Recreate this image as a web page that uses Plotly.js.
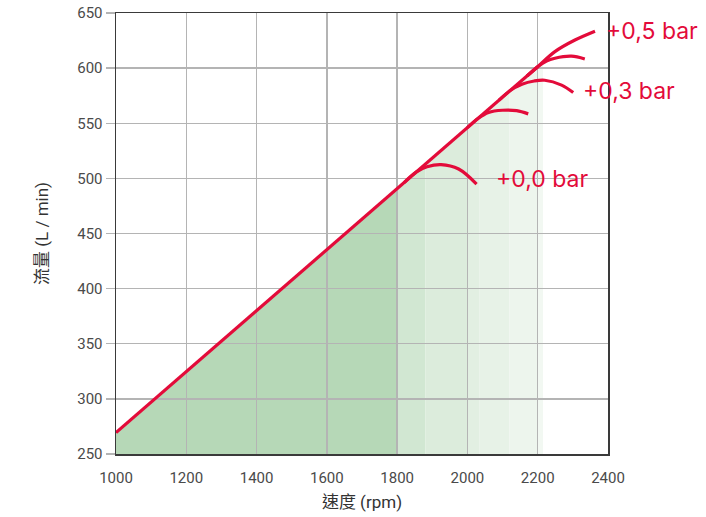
<!DOCTYPE html>
<html>
<head>
<meta charset="utf-8">
<script src="https://cdn.plot.ly/plotly-3.0.1.min.js"></script>
<style>html,body{margin:0;padding:0;background:#fff;}#chart{width:706px;height:517px;}</style>
</head>
<body>
<div id="chart"></div>
<script>
// x axis ticks (rpm) and y axis ticks (L/min)
const xTicks = [1000, 1200, 1400, 1600, 1800, 2000, 2200, 2400];
const yTicks = [250, 300, 350, 400, 450, 500, 550, 600, 650];

// main straight flow line
const mainX = [1000, 2200];
const mainY = [269.4, 601.3];

// pressure curves
const c00X = [1820, 1855, 1885, 1925, 1975, 2026];
const c00Y = [496.2, 505.9, 510.5, 512.5, 508.5, 494.8];
const c01X = [2000, 2030, 2060, 2100, 2140, 2173];
const c01Y = [546, 554.3, 559.8, 561.8, 561.4, 558.5];
const c03X = [2090, 2121, 2155, 2190, 2220, 2268, 2301];
const c03Y = [570.9, 579.5, 585.3, 588.3, 589, 584.6, 577.8];
const c04X = [2170, 2200, 2225, 2249, 2296, 2334];
const c04Y = [593, 601.3, 606.5, 609, 610.8, 608.3];
const c05X = [2170, 2200, 2249, 2306, 2363];
const c05Y = [593, 601.3, 615, 625.5, 633.5];

// shaded bands under the line
const bandEdges = [1000, 1800, 1880, 2000, 2035, 2120, 2200, 2215];
const bandTop   = [269.4, 490.7, 512.8, 546, 555.7, 579.2, 601.3, 605.5];
const bandColor = ['#b6d8b7', '#d1e7d2', '#dcecdc', '#e2efe2', '#e7f2e7', '#edf5ed', '#f2f8f2'];

// labels
const labelText = ['+0,5 bar', '+0,3 bar', '+0,0 bar'];
const labelX = [2388, 2324, 2077];
const labelY = [634, 579, 499.5];

const RED = '#e30b3a';
const traces = [];
// fills live on the lower subplot (x/y) so the grid of the upper subplot is drawn over them
for (let i = 0; i < bandEdges.length - 1; i++) {
  traces.push({
    x: [bandEdges[i], bandEdges[i + 1]],
    y: [bandTop[i], bandTop[i + 1]],
    xaxis: 'x', yaxis: 'y',
    type: 'scatter', mode: 'lines', fill: 'tozeroy',
    fillcolor: bandColor[i],
    line: {width: 0}, hoverinfo: 'skip', showlegend: false
  });
}
const curves = [[mainX, mainY, 'linear'], [c00X, c00Y, 'spline'], [c01X, c01Y, 'spline'],
  [c03X, c03Y, 'spline'], [c04X, c04Y, 'spline'], [c05X, c05Y, 'spline']];
curves.forEach(c => traces.push({
  x: c[0], y: c[1], xaxis: 'x2', yaxis: 'y2', type: 'scatter', mode: 'lines',
  line: {color: RED, width: 3.2, shape: c[2], smoothing: 1},
  showlegend: false, hoverinfo: 'skip'
}));

const annotations = labelText.map((t, i) => ({
  x: labelX[i], y: labelY[i], xref: 'x2', yref: 'y2', text: t, showarrow: false,
  xanchor: 'left', yanchor: 'middle',
  font: {family: 'Inter, Roboto, sans-serif', size: 23, color: RED}
}));

const layout = {
  width: 706, height: 517,
  margin: {l: 116, r: 98, t: 13, b: 63},
  paper_bgcolor: '#fff', plot_bgcolor: 'rgba(0,0,0,0)',
  showlegend: false,
  font: {family: 'Roboto, "Noto Sans CJK TC", sans-serif', color: '#444'},
  xaxis: {range: [1000, 2400], visible: false, fixedrange: true, anchor: 'y'},
  yaxis: {range: [250, 650], visible: false, fixedrange: true, anchor: 'x'},
  xaxis2: {
    range: [1000, 2400], tickvals: xTicks, ticktext: xTicks.map(String),
    anchor: 'y2', domain: [0, 1],
    showgrid: true, gridcolor: '#b4b4b4', gridwidth: 1.3,
    showline: true, linecolor: '#3a3a3a', linewidth: 1.5, mirror: true,
    ticks: 'outside', ticklen: 9, tickcolor: 'rgba(0,0,0,0)',
    tickfont: {family: 'Roboto, sans-serif', size: 15, color: '#4a4a4a'},
    zeroline: false, fixedrange: true,
    title: {text: '速度 (rpm)', standoff: 10,
      font: {family: 'Roboto, "Noto Sans CJK TC", sans-serif', size: 17, color: '#333'}}
  },
  yaxis2: {
    range: [250, 650], tickvals: yTicks, ticktext: yTicks.map(String),
    anchor: 'x2', domain: [0, 1],
    showgrid: true, gridcolor: '#b4b4b4', gridwidth: 1.3,
    showline: true, linecolor: '#3a3a3a', linewidth: 1.5, mirror: true,
    ticks: 'outside', ticklen: 9, tickcolor: '#b4b4b4', tickwidth: 1.3,
    tickfont: {family: 'Roboto, sans-serif', size: 15, color: '#4a4a4a'},
    zeroline: false, fixedrange: true,
    title: {text: '流量 (L / min)', standoff: 24,
      font: {family: 'Roboto, "Noto Sans CJK TC", sans-serif', size: 17, color: '#333'}}
  },
  annotations: annotations
};

Plotly.newPlot('chart', traces, layout, {displayModeBar: false, staticPlot: true});
</script>
</body>
</html>
